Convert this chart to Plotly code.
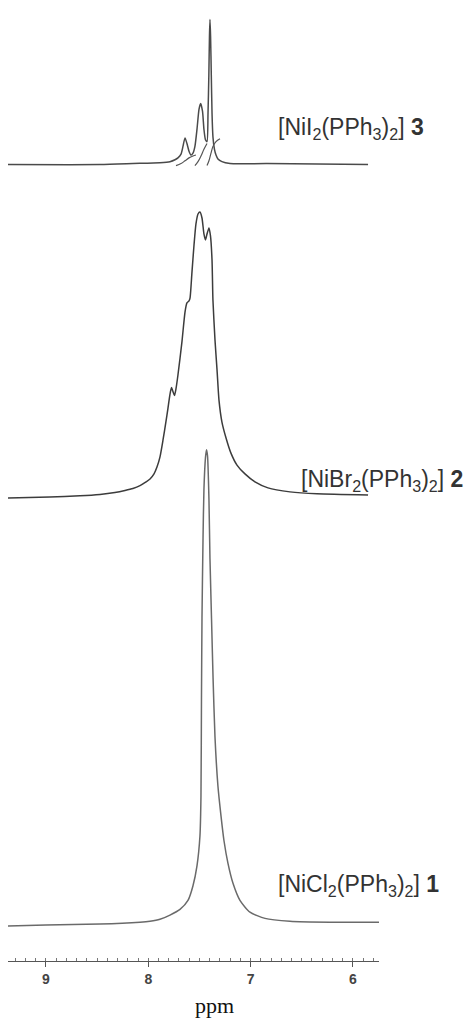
import plotly.graph_objects as go

# ---------------- data ----------------
# Spectrum 1: [NiCl2(PPh3)2]
ppm_cl = [9.381, 9.000, 8.472, 8.081, 7.983, 7.886, 7.788, 7.690, 7.612, 7.563, 7.524,
          7.495, 7.485, 7.480, 7.475, 7.465, 7.456, 7.441, 7.431,
          7.421, 7.407, 7.397, 7.382, 7.367, 7.348, 7.319, 7.289, 7.260, 7.221, 7.172,
          7.104, 7.006, 6.859, 6.615, 6.224, 5.745]
int_cl = [-0.6, -0.4, -0.2, 0.2, 0.4, 0.8, 1.7, 2.9, 4.8, 7.9, 12.1,
          18.4, 26.8, 47.7, 64.4, 81.2, 91.6, 98.3, 100.0,
          98.7, 89.5, 77.0, 64.4, 51.9, 39.3, 28.9, 22.6, 17.4, 12.6, 8.4,
          4.8, 2.3, 1.0, 0.4, 0.2, 0.2]

# Spectrum 2: [NiBr2(PPh3)2]
ppm_br = [9.381, 8.961, 8.668, 8.472, 8.326, 8.228, 8.150, 8.081, 8.022, 7.983, 7.944,
          7.915, 7.886, 7.856, 7.827, 7.808, 7.788, 7.773, 7.759, 7.744, 7.729, 7.710,
          7.671, 7.641, 7.622, 7.602, 7.592, 7.573, 7.553, 7.534, 7.514, 7.495, 7.475,
          7.456, 7.441, 7.426, 7.407, 7.392, 7.377, 7.368, 7.348, 7.328, 7.309, 7.280,
          7.240, 7.192, 7.133, 7.055, 6.957, 6.830, 6.615, 6.351, 5.852]
int_br = [-0.4, 0.0, 0.4, 0.9, 1.6, 2.3, 3.0, 4.0, 5.3, 6.3, 8.1,
          10.5, 14.0, 20.0, 26.5, 31.0, 36.0, 38.4, 37.0, 35.6, 38.0, 42.8,
          54.4, 64.9, 68.1, 68.8, 69.8, 78.9, 88.4, 95.8, 99.3, 100.0, 97.9,
          92.3, 90.2, 92.3, 94.4, 91.6, 83.2, 69.1, 55.1, 44.6, 34.0, 26.3,
          20.7, 15.4, 11.2, 8.1, 5.3, 3.2, 1.8, 1.1, 0.7]

# Spectrum 3: [NiI2(PPh3)2]
ppm_i = [9.381, 8.472, 8.150, 7.886, 7.788, 7.739, 7.710, 7.680, 7.661, 7.641, 7.622,
         7.602, 7.583, 7.563, 7.544, 7.524, 7.504, 7.488, 7.470, 7.456, 7.441, 7.426,
         7.416, 7.408, 7.402, 7.397, 7.391, 7.384, 7.377, 7.368, 7.353, 7.338, 7.319,
         7.280, 7.201, 6.840, 5.852]
int_i = [0.0, 0.0, 0.7, 1.3, 2.0, 3.3, 4.6, 7.2, 12.5, 18.4, 14.5,
         9.2, 6.6, 7.9, 12.5, 24.3, 38.2, 42.1, 36.8, 24.3, 17.1, 15.8,
         35.5, 61.8, 88.2, 100.0, 88.2, 61.8, 35.5, 19.1, 10.5, 6.6, 3.9,
         2.0, 0.7, 0.7, 0.0]

# Integral traces drawn over spectrum 3
ppm_int1 = [7.729, 7.680, 7.641, 7.602, 7.563, 7.534]
val_int1 = [-0.7, 0.7, 2.6, 4.6, 5.9, 6.6]
ppm_int2 = [7.544, 7.514, 7.485, 7.456, 7.426]
val_int2 = [-0.7, 2.0, 5.9, 10.5, 14.5]
ppm_int3 = [7.426, 7.407, 7.387, 7.368, 7.338, 7.299]
val_int3 = [-0.7, 2.6, 7.9, 12.5, 15.8, 17.8]

labels = ["[NiCl<sub>2</sub>(PPh<sub>3</sub>)<sub>2</sub>] <b>1</b>",
          "[NiBr<sub>2</sub>(PPh<sub>3</sub>)<sub>2</sub>] <b>2</b>",
          "[NiI<sub>2</sub>(PPh<sub>3</sub>)<sub>2</sub>] <b>3</b>"]
tick_vals = [9, 8, 7, 6]
tick_text = ["9", "8", "7", "6"]

# ---------------- layout helpers ----------------
# The page body has an 8px margin, so the figure starts at (8, 8) in the window.
OFF = 8
W, H = 473 - OFF, 1018 - OFF
PLOT_LEFT, PLOT_RIGHT, PLOT_TOP, PLOT_BOTTOM = 8, 379, 8, 961   # window pixels
ML = PLOT_LEFT - OFF
MR = W - (PLOT_RIGHT - OFF)
MT = PLOT_TOP - OFF
MB = H - (PLOT_BOTTOM - OFF)
PW = PLOT_RIGHT - PLOT_LEFT
PH = PLOT_BOTTOM - PLOT_TOP
LO, HI = -8, 108


def domain(base_px, top_px):
    s = (base_px - top_px) / 100.0
    p_lo = base_px - LO * s
    p_hi = base_px - HI * s
    return [max(0, (PLOT_BOTTOM - p_lo) / PH), min(1, (PLOT_BOTTOM - p_hi) / PH)]


def px_x(px):
    return (px - PLOT_LEFT) / PW


def px_y(py):
    return (PLOT_BOTTOM - py) / PH


line_shape = dict(shape="spline", smoothing=0.6)

fig = go.Figure()
fig.add_trace(go.Scatter(x=ppm_cl, y=int_cl, mode="lines", yaxis="y",
                         line=dict(color="#6a6a6a", width=1.5, **line_shape),
                         hoverinfo="skip"))
fig.add_trace(go.Scatter(x=ppm_br, y=int_br, mode="lines", yaxis="y2",
                         line=dict(color="#3c3c3c", width=1.5, **line_shape),
                         hoverinfo="skip"))
fig.add_trace(go.Scatter(x=ppm_i, y=int_i, mode="lines", yaxis="y3",
                         line=dict(color="#4a4a4a", width=1.5, **line_shape),
                         hoverinfo="skip"))
for px_, vy in [(ppm_int1, val_int1), (ppm_int2, val_int2), (ppm_int3, val_int3)]:
    fig.add_trace(go.Scatter(x=px_, y=vy, mode="lines", yaxis="y3",
                             line=dict(color="#555555", width=1.2, shape="spline"),
                             hoverinfo="skip"))

yax = dict(visible=False, range=[LO, HI], fixedrange=True)
fig.update_layout(
    width=W, height=H,
    margin=dict(l=ML, r=MR, t=MT, b=MB, autoexpand=False),
    paper_bgcolor="white", plot_bgcolor="rgba(0,0,0,0)",
    showlegend=False,
    xaxis=dict(range=[9.371, 5.745], anchor="free", position=0,
               showgrid=False, zeroline=False,
               showline=True, linecolor="#555555", linewidth=1.2,
               tickvals=tick_vals, ticktext=tick_text,
               ticks="outside", ticklen=5, tickwidth=1.3, tickcolor="#555555",
               tickfont=dict(family="Liberation Sans, Arial", size=14, color="#444444",
                             weight="bold"),
               minor=dict(ticks="inside", ticklen=3, tickwidth=1, tickcolor="#777777",
                          dtick=0.1, tick0=9, showgrid=False)),
    yaxis=dict(yax, domain=domain(928, 450)),
    yaxis2=dict(yax, domain=domain(497, 212), anchor="x"),
    yaxis3=dict(yax, domain=domain(164, 12), anchor="x"),
)

ann_font = dict(family="Liberation Sans, Arial", size=23, color="#333333")
for txt, (lx, ly) in zip(labels, [(276, 885), (299, 480), (276, 128)]):
    fig.add_annotation(text=txt, xref="paper", yref="paper",
                       x=px_x(lx), y=px_y(ly), xanchor="left", yanchor="middle",
                       showarrow=False, font=ann_font)

fig.add_annotation(text="ppm", xref="paper", yref="paper",
                   x=px_x(215), y=px_y(1005), xanchor="center", yanchor="middle",
                   showarrow=False,
                   font=dict(family="Liberation Serif, Times New Roman", size=22,
                             color="#111111"))

fig.write_html("out.html")
